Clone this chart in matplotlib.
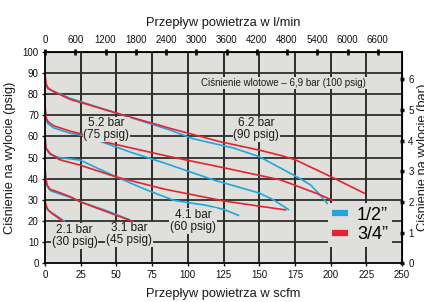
import matplotlib
matplotlib.use('Agg')
import matplotlib.pyplot as plt
from matplotlib.lines import Line2D

plt.rcParams['font.family'] = ['Liberation Sans', 'DejaVu Sans']

# ---------------- data (scfm, psig) ----------------
red_90_x = [0, 0.7, 2, 5, 17.5, 50, 87.5, 122.5, 150, 165, 175, 200, 224]
red_90_y = [90, 85, 83, 81.5, 77.5, 71, 63.8, 57.5, 53.5, 51, 49, 41, 33]
blue_90_x = [0, 0.7, 2, 17.5, 50, 87.5, 103, 122, 132, 150, 165, 180, 186, 191, 195, 198]
blue_90_y = [87.5, 84, 82.5, 78, 71, 63, 59, 56, 54.5, 50.4, 45, 39.5, 37, 33.5, 30.5, 28]

red_75_x = [0, 0.7, 2, 6, 17.5, 26, 42, 87.5, 127, 165, 190, 202]
red_75_y = [75, 69, 67, 65, 62.5, 61, 57.3, 50.4, 44.9, 39.4, 33.1, 29.6]
blue_75_x = [0, 0.7, 2, 6, 17.5, 26, 36, 60, 84, 118, 150, 160, 171]
blue_75_y = [73.5, 68, 66, 64, 61.5, 60.5, 58.3, 52.5, 47.3, 39.4, 33.2, 30, 25.2]

red_60_x = [0, 0.7, 3.5, 10, 24.5, 50, 84, 125, 150, 169]
red_60_y = [60, 54.5, 52, 49, 46.4, 40.8, 35, 29.5, 27, 25.2]
blue_60_x = [0, 0.7, 3.5, 10, 24.5, 50, 70, 90, 100, 113, 125, 136]
blue_60_y = [60, 54, 51.5, 50, 48.8, 40.8, 35, 29.8, 28.7, 27.4, 25.5, 22.5]

red_45_x = [0, 0.5, 1.5, 3.5, 10, 17.5, 24.5, 43, 62]
red_45_y = [45, 40, 37, 35, 33.5, 31.5, 29.1, 24.4, 19.7]
blue_45_x = [0, 0.5, 1.5, 3.5, 5.8, 19.8, 24.5, 43, 59.5]
blue_45_y = [45, 40, 36.5, 34.5, 33.8, 30.7, 29.1, 24.9, 20.5]

red_30_x = [0, 0.5, 1.5, 2.5, 5, 8.2, 12.8]
red_30_y = [30, 28, 26, 25, 23.5, 22, 19.7]
blue_30_x = [0, 0.5, 1.5, 3.5, 8, 14]
blue_30_y = [29, 27, 25.5, 24.4, 22.5, 19.7]

x_ticks = [0, 25, 50, 75, 100, 125, 150, 175, 200, 225, 250]
y_ticks = [0, 10, 20, 30, 40, 50, 60, 70, 80, 90, 100]
lpm_ticks = [0, 600, 1200, 1800, 2400, 3000, 3600, 4200, 4800, 5400, 6000, 6600]
bar_ticks = [0, 1, 2, 3, 4, 5, 6]

curve_labels = ["2.1 bar\n(30 psig)", "3.1 bar\n(45 psig)", "4.1 bar\n(60 psig)",
                "5.2 bar\n(75 psig)", "6.2 bar\n(90 psig)"]
curve_label_x = [20.7, 58.8, 103.7, 43, 148]
curve_label_y = [12.9, 13.8, 20, 63.4, 63.4]
inlet_text = "Ciśnienie wlotowe – 6,9 bar (100 psig)"
legend_labels = ["1/2”", "3/4”"]

SCFM_TO_LPM = 28.3168
PSI_PER_BAR = 14.5038

BG = '#dfdfdb'
BLUE = '#1ea8e0'
RED = '#e8232d'

W, H = 424, 302
fig = plt.figure(figsize=(W / 100, H / 100), dpi=100)
fig.patch.set_facecolor('white')
ax = fig.add_axes([45 / W, 1 - 263.3 / H, 357 / W, 211.6 / H])
ax.set_facecolor(BG)
ax.set_xlim(0, 250)
ax.set_ylim(0, 100)

for xv in x_ticks[1:-1]:
    ax.axvline(xv, color='#1e1e1e', lw=1.3, zorder=1)
for yv in y_ticks[1:-1]:
    ax.axhline(yv, color='#2e2e2e', lw=1.3, zorder=1)

series = [
    (blue_90_x, blue_90_y, BLUE), (red_90_x, red_90_y, RED),
    (blue_75_x, blue_75_y, BLUE), (red_75_x, red_75_y, RED),
    (blue_60_x, blue_60_y, BLUE), (red_60_x, red_60_y, RED),
    (blue_45_x, blue_45_y, BLUE), (red_45_x, red_45_y, RED),
    (blue_30_x, blue_30_y, BLUE), (red_30_x, red_30_y, RED),
]
for xs, ys, c in series:
    ax.plot(xs, ys, color=c, lw=1.2, zorder=2, solid_capstyle='butt',
            solid_joinstyle='round')

for txt, tx, ty in zip(curve_labels, curve_label_x, curve_label_y):
    ax.text(tx, ty, txt, ha='center', va='center', fontsize=8.5, linespacing=1.0,
            color='#1a1a1a', zorder=4,
            bbox=dict(boxstyle='square,pad=0.05', fc=BG, ec='none'))
ax.text(167, 85.2, inlet_text, ha='center', va='center', fontsize=7, color='#1a1a1a',
        zorder=4, bbox=dict(boxstyle='square,pad=0.1', fc=BG, ec='none'))

# axes styling
for s in ax.spines.values():
    s.set_color('black')
    s.set_linewidth(1.3)
ax.set_xticks(x_ticks)
ax.set_yticks(y_ticks)
ax.tick_params(axis='both', labelsize=7, length=2.5, width=1, pad=2, colors='#111111')
ax.set_xlabel("Przepływ powietrza w scfm", fontsize=9.3, labelpad=6, color='#1a1a1a')

fig.text(4 / W, 1 - 157.5 / H, "Ciśnienie na wylocie (psig)", rotation=90,
         ha='left', va='center', fontsize=9.3, color='#1a1a1a')
fig.text(417 / W, 1 - 157.5 / H, "Ciśnienie na wylocie (bar)", rotation=90,
         ha='left', va='center', fontsize=9.3, color='#1a1a1a')

top = ax.secondary_xaxis('top', functions=(lambda x: x * SCFM_TO_LPM,
                                           lambda x: x / SCFM_TO_LPM))
top.set_xticks(lpm_ticks)
top.set_xticklabels([str(v) for v in lpm_ticks])
top.tick_params(labelsize=7, direction='inout', length=4, width=2, pad=3, colors='#111111')
top.set_xlabel("Przepływ powietrza w l/min", fontsize=9.3, labelpad=6, color='#1a1a1a')

right = ax.secondary_yaxis('right', functions=(lambda y: y / PSI_PER_BAR,
                                               lambda y: y * PSI_PER_BAR))
right.set_yticks(bar_ticks)
right.set_yticklabels([str(v) for v in bar_ticks])
right.tick_params(labelsize=7, direction='inout', length=3, width=2.5, pad=3, colors='#111111')

handles = [Line2D([], [], color=BLUE, lw=4.5, solid_capstyle='butt'),
           Line2D([], [], color=RED, lw=4.5, solid_capstyle='butt')]
leg = ax.legend(handles, legend_labels, loc='upper left',
                bbox_to_anchor=(328 / W, 1 - 203 / H), bbox_transform=fig.transFigure,
                fontsize=13, handlelength=0.9, handletextpad=0.5, labelspacing=0.15,
                borderpad=0.2, borderaxespad=0, frameon=True, fancybox=False)
leg.get_frame().set_facecolor(BG)
leg.get_frame().set_edgecolor('none')
leg.get_frame().set_alpha(1)
leg.set_zorder(5)

fig.savefig('out.png', dpi=100, facecolor='white')
